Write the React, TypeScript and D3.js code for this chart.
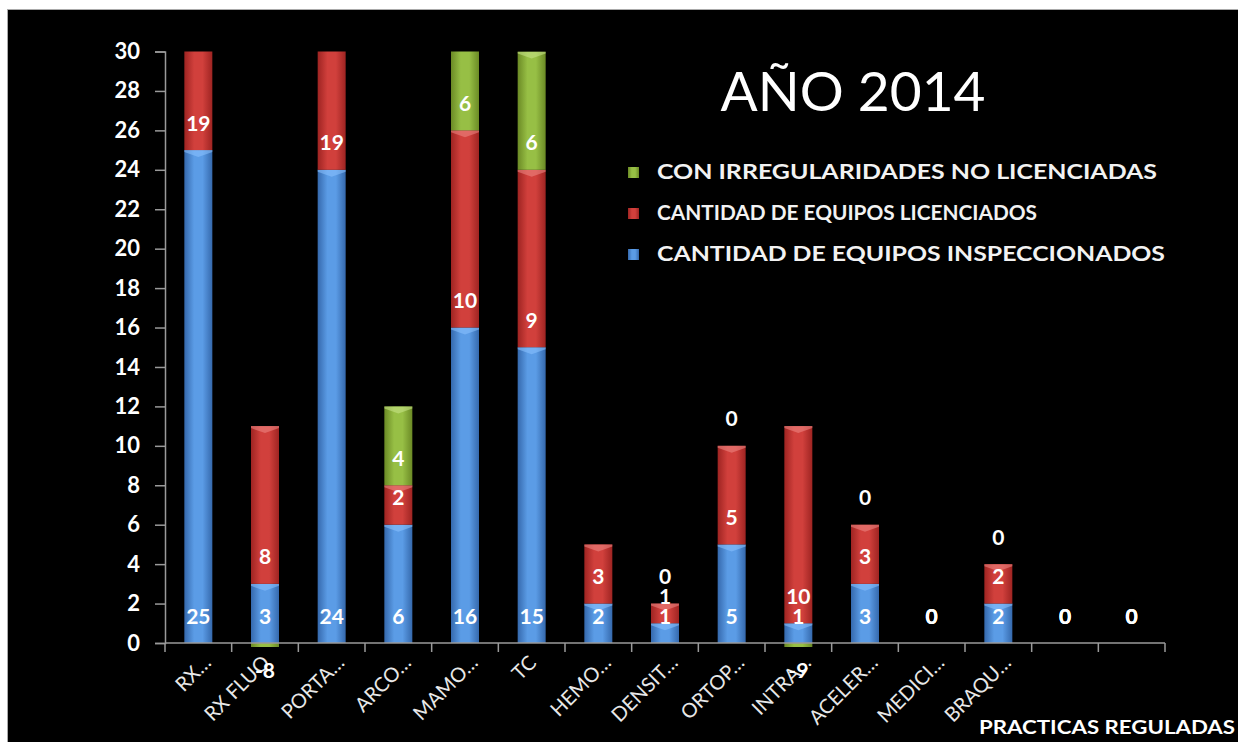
import React, { useEffect, useRef } from 'react';
import * as d3 from 'd3';

// practicas reguladas (two last categories have no name)
const categories = ['RX\u2026', 'RX FLUO', 'PORTA\u2026', 'ARCO\u2026', 'MAMO\u2026', 'TC', 'HEMO\u2026', 'DENSIT\u2026', 'ORTOP\u2026', 'INTRA\u2026', 'ACELER\u2026', 'MEDICI\u2026', 'BRAQU\u2026', '', ''];
const inspeccionados = [25, 3, 24, 6, 16, 15, 2, 1, 5, 1, 3, 0, 2, 0, 0];
const licenciados = [19, 8, 19, 2, 10, 9, 3, 1, 5, 10, 3, 0, 2, 0, 0];
const irregularidades: (number | null)[] = [null, -8, null, 4, 6, 6, null, 0, 0, -9, 0, 0, 0, 0, 0];
const yTicks = [0, 2, 4, 6, 8, 10, 12, 14, 16, 18, 20, 22, 24, 26, 28, 30];

const seriesNames = ['CANTIDAD DE EQUIPOS INSPECCIONADOS', 'CANTIDAD DE EQUIPOS LICENCIADOS', 'CON IRREGULARIDADES NO LICENCIADAS'];
const seriesValues = [inspeccionados, licenciados, irregularidades];
const seriesColors = [
    ['#3569ad', '#5b9ce6', '#8cc3ff'],
    ['#9e2422', '#d1403c', '#ee8a86'],
    ['#6b8a25', '#97bf45', '#cbe58d'],
];

export default function App() {
    const ref = useRef<SVGSVGElement>(null);

    useEffect(() => {
        const svg = d3.select(ref.current);
        svg.selectAll('*').remove();

        const width = 1238, height = 742;
        const m = { left: 165, right: 1165, top: 51.5, bottom: 643 };
        const font = 'Lato, "Open Sans", sans-serif';

        svg.append('rect').attr('width', width).attr('height', height).attr('fill', '#fff');
        svg.append('rect').attr('x', 7.5).attr('y', 9.5).attr('width', width).attr('height', height)
            .attr('fill', '#000').attr('stroke', '#aaa');

        const defs = svg.append('defs');
        seriesColors.forEach((c, i) => {
            const g = defs.append('linearGradient').attr('id', 'grad' + i).attr('x1', 0).attr('x2', 1).attr('y1', 0).attr('y2', 0);
            g.append('stop').attr('offset', '0%').attr('stop-color', c[0]);
            g.append('stop').attr('offset', '35%').attr('stop-color', c[1]);
            g.append('stop').attr('offset', '65%').attr('stop-color', c[1]);
            g.append('stop').attr('offset', '100%').attr('stop-color', c[0]);
        });
        defs.append('clipPath').attr('id', 'plotClip').append('rect')
            .attr('x', m.left).attr('y', m.top).attr('width', m.right - m.left).attr('height', m.bottom - m.top + 4);

        const x = d3.scaleBand<number>().domain(d3.range(categories.length)).range([m.left, m.right]).paddingInner(0).paddingOuter(0);
        const y = d3.scaleLinear().domain([0, 30]).range([m.bottom, m.top]);
        const barW = x.bandwidth() * 0.42;

        // stack: positives upward, negatives downward from zero, zero values sit on top of positives
        type Seg = { i: number; s: number; base: number; v0: number; v1: number; value: number | null };
        const segs: Seg[] = [];
        categories.forEach((_, i) => {
            let pos = 0, neg = 0;
            seriesValues.forEach((vals, s) => {
                const v = vals[i];
                if (v == null) return;
                if (v >= 0) { segs.push({ i, s, base: pos, v0: pos, v1: pos + v, value: v }); pos += v; }
                else { segs.push({ i, s, base: neg, v0: neg + v, v1: neg, value: v }); neg += v; }
            });
        });

        const plot = svg.append('g').attr('clip-path', 'url(#plotClip)');
        segs.filter(d => d.value !== 0).forEach(d => {
            const x0 = x(d.i)! + (x.bandwidth() - barW) / 2;
            const top = y(d.v1), bot = y(d.v0);
            plot.append('rect').attr('x', x0).attr('y', top).attr('width', barW).attr('height', bot - top)
                .attr('fill', `url(#grad${d.s})`);
            if (d.value! > 0 && bot - top > 8) {
                const cx = x0 + barW / 2;
                plot.append('path')
                    .attr('d', `M${x0},${top}L${x0 + barW},${top}L${x0 + barW},${top + 2}L${cx},${top + 7}L${x0},${top + 2}Z`)
                    .attr('fill', seriesColors[d.s][2]).attr('opacity', 0.55);
            }
        });

        // axes
        const axisColor = '#9a9a9a';
        const yAxis = svg.append('g').attr('transform', `translate(${m.left},0)`)
            .call(d3.axisLeft(y).tickValues(yTicks).tickSize(10).tickPadding(15));
        yAxis.select('.domain').attr('stroke', axisColor).attr('stroke-width', 1.5);
        yAxis.selectAll('.tick line').attr('stroke', axisColor).attr('stroke-width', 1.5);
        yAxis.selectAll('.tick text').attr('fill', '#fff').attr('font-family', font).attr('font-weight', 'bold').attr('font-size', 22);

        const xAxis = svg.append('g').attr('transform', `translate(0,${m.bottom})`);
        xAxis.append('line').attr('x1', m.left).attr('x2', m.right).attr('stroke', axisColor).attr('stroke-width', 1.5);
        d3.range(categories.length + 1).forEach(k => {
            const tx = m.left + k * x.bandwidth();
            xAxis.append('line').attr('x1', tx).attr('x2', tx).attr('y1', 0).attr('y2', 9).attr('stroke', axisColor).attr('stroke-width', 1.5);
        });
        categories.forEach((c, i) => {
            const cx = x(i)! + x.bandwidth() / 2 + (c.endsWith('\u2026') ? 14 : 6);
            xAxis.append('text').attr('transform', `translate(${cx},${21}) rotate(-45)`)
                .attr('text-anchor', 'end')
                .attr('fill', '#e8e8e8').attr('font-family', font).attr('font-size', 20).text(c);
        });

        // data labels at inside base
        segs.forEach(d => {
            const baseY = y(d.base);
            const ly = d.value! < 0 ? baseY + 27 : baseY - 27;
            if (ly < m.top) return;
            svg.append('text').attr('x', x(d.i)! + x.bandwidth() / 2).attr('y', ly)
                .attr('text-anchor', 'middle').attr('dy', '0.36em')
                .attr('fill', '#fff').attr('font-family', font).attr('font-weight', 'bold').attr('font-size', 21)
                .text(d.value);
        });

        // title
        svg.append('text').attr('x', 853).attr('y', 111).attr('text-anchor', 'middle')
            .attr('fill', '#fff').attr('font-family', font).attr('font-size', 55).text('A\u00d1O 2014');

        // legend
        const legendRows = [2, 1, 0];
        const legendWidths = [500, 380, 508];
        legendRows.forEach((s, r) => {
            const ly = 172 + r * 41;
            svg.append('rect').attr('x', 628).attr('y', ly - 5).attr('width', 11).attr('height', 11)
                .attr('fill', `url(#grad${s})`);
            svg.append('text').attr('x', 657).attr('y', ly).attr('dy', '0.35em')
                .attr('fill', '#f2f2f2').attr('font-family', font).attr('font-weight', 'bold').attr('font-size', 20)
                .attr('textLength', legendWidths[r]).attr('lengthAdjust', 'spacingAndGlyphs')
                .text(seriesNames[s]);
        });

        svg.append('text').attr('x', 1235).attr('y', 734).attr('text-anchor', 'end')
            .attr('fill', '#fff').attr('font-family', font).attr('font-weight', 'bold').attr('font-size', 19)
            .attr('textLength', 256).attr('lengthAdjust', 'spacingAndGlyphs')
            .text('PRACTICAS REGULADAS');
    }, []);

    return <svg ref={ref} width={1238} height={742} style={{ position: 'absolute', left: 0, top: 0, display: 'block' }} />;
}
